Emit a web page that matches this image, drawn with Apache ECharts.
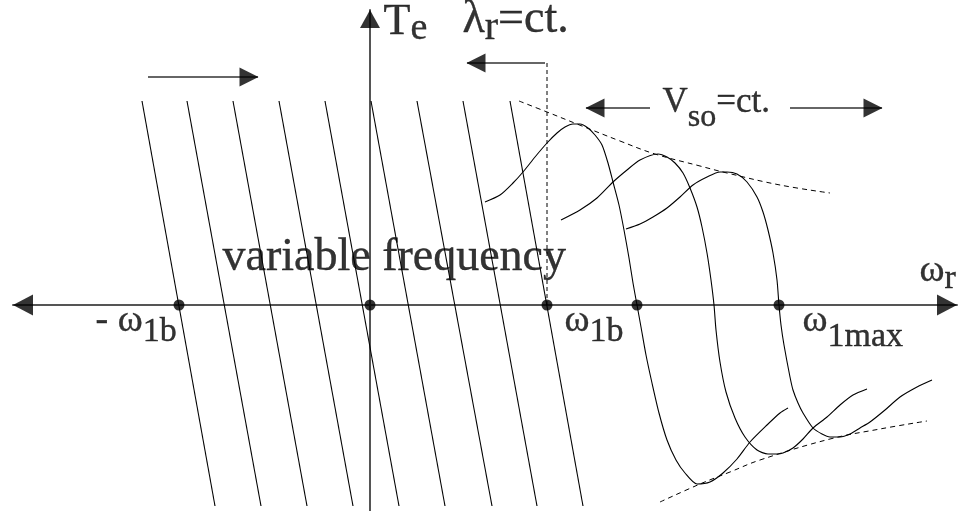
<!DOCTYPE html>
<html>
<head>
<meta charset="utf-8">
<script src="https://cdn.jsdelivr.net/npm/echarts@6/dist/echarts.min.js"></script>
<style>
  html, body { margin: 0; padding: 0; background: #fff; }
  #chart { width: 967px; height: 511px; }
</style>
</head>
<body>
<div id="chart"></div>
<script>
// Torque–speed characteristics of an induction machine under V/f control.
// Horizontal: rotor speed ω_r, vertical: electromagnetic torque T_e (diagram units).

// extent of the two axes
const speedMin = -357, speedMax = 587;
const torqueMin = -206, torqueMax = 295;

// synchronous speeds marked on the speed axis
const syncSpeeds = [-191, 0, 177, 267, 409];

// constant rotor flux region: parallel straight characteristics (speed at top / bottom end)
const straightTopT = 204;
const straightBottomT = -201;
const straightTopW = [-228, -183, -137, -91, -45, 1, 47, 93, 140];
const straightBottomW = [-155, -109, -63, -17, 29, 75, 122, 167, 213];

// constant stator voltage region: full characteristics [ω_r, T_e]
const curveBase = [
  [115, 103], [130, 110], [143, 122], [153, 133], [165, 148], [177, 162], [187, 172],
  [195, 178], [203, 181], [210, 181], [218, 177], [225, 170], [232, 160], [238, 142],
  [243, 123], [249, 100], [254, 75], [259, 47], [263, 22], [267, 0], [271, -22],
  [276, -50], [282, -78], [289, -108], [297, -135], [306, -155], [315, -168], [327, -179],
  [340, -177], [353, -168], [367, -154], [380, -137], [397, -120], [410, -108], [418, -103]
];
const curveMid = [
  [191, 85], [210, 95], [227, 107], [243, 123], [257, 135], [270, 145], [288, 151],
  [297, 148], [305, 142], [313, 132], [320, 117], [327, 98], [332, 78], [337, 52],
  [341, 25], [344, 0], [346, -25], [350, -57], [356, -87], [365, -113], [375, -132],
  [387, -145], [398, -149], [407, -149], [413, -148], [423, -143], [433, -134],
  [443, -123], [457, -112], [470, -100], [483, -90], [497, -84]
];
const curveMax = [
  [256, 76], [270, 81], [283, 88], [297, 97], [310, 108], [323, 120], [337, 128],
  [350, 133], [357, 133], [367, 131], [377, 123], [387, 108], [393, 93], [398, 75],
  [403, 52], [407, 25], [409, 0], [411, -20], [414, -40], [420, -72], [423, -85],
  [428, -98], [433, -108], [443, -123], [452, -129], [460, -132], [470, -132],
  [480, -129], [490, -123], [500, -117], [515, -105], [530, -92], [547, -82], [562, -75]
];

// breakdown torque envelopes
const peakEnvelope = [[149, 204], [177, 193], [207, 181], [250, 164], [285, 151], [330, 139], [357, 132], [410, 120], [460, 112]];
const troughEnvelope = [[290, -197], [330, -179], [360, -167], [390, -155], [460, -134], [510, -124], [557, -116]];

// limit of the constant-flux region
const fluxLimitW = 177;
const fluxLimitTopT = 242;

// direction arrows: torque level, shaft start, tip
const arrowLevels = [228, 242, 197, 197];
const arrowFrom = [-222, 175, 280, 420];
const arrowTo = [-112, 97, 216, 512];

// text annotations
const labelTexts = [
  '{t|T}{te|e}',
  '{l|λ}{lr|r}{l|=ct.}',
  '{v|V}{vs|so}{v|=ct.}',
  '{m|ω}{wr|r}',
  '{m|- ω}{s|1b}',
  '{m|ω}{s|1b}',
  '{m|ω}{x|1max}',
  '{big|variable frequency}'
];
const labelW = [14, 93, 293, 550, -274, 195, 433, -147];
const labelT = [304, 308, 219, 52, 2, 2, 2, 70];

const serif = "'Liberation Serif', 'Times New Roman', serif";
const ink = '#000';
function face(size, shift) {
  const st = {
    fontFamily: serif, fontSize: size, lineHeight: size, verticalAlign: 'top',
    color: ink, textBorderColor: ink, textBorderWidth: 0.4
  };
  if (shift) st.padding = [shift, 0, 0, 0];
  return st;
}
const rich = {
  t: face(44), te: face(38, 10),
  l: face(46), lr: face(40, 12),
  v: face(35), vs: face(32, 16),
  m: face(38), wr: face(34, 10), s: face(34, 13), x: face(34, 18),
  big: face(46)
};

const series = [];

straightTopW.forEach((w, i) => {
  series.push({
    type: 'line',
    data: [[w, straightTopT], [straightBottomW[i], straightBottomT]],
    showSymbol: false,
    lineStyle: { color: ink, width: 1.1 }
  });
});

[curveBase, curveMid, curveMax].forEach(c => {
  series.push({
    type: 'line', data: c, smooth: 0.25, showSymbol: false,
    lineStyle: { color: ink, width: 1.1 }
  });
});

[peakEnvelope, troughEnvelope].forEach(c => {
  series.push({
    type: 'line', data: c, smooth: 0.4, showSymbol: false,
    lineStyle: { color: ink, width: 1, type: [5, 4] }
  });
});

series.push({
  type: 'line',
  data: [[fluxLimitW, 0], [fluxLimitW, fluxLimitTopT]],
  showSymbol: false,
  lineStyle: { color: ink, width: 1, type: [4, 3] }
});

arrowLevels.forEach((t, i) => {
  series.push({
    type: 'line',
    data: [[arrowFrom[i], t], [arrowTo[i], t]],
    showSymbol: false,
    lineStyle: { color: '#333', width: 1.5 }
  });
});

// arrow heads of the annotation arrows and of both axes (tip sits on the data point)
const heads = arrowLevels.map((t, i) => {
  const right = arrowTo[i] > arrowFrom[i];
  return { value: [arrowTo[i], t], symbolSize: [19, 19], symbolRotate: right ? -90 : 90, symbolOffset: [right ? -9 : 9, 0] };
});
heads.push({ value: [speedMin, 0], symbolSize: [21, 20], symbolRotate: 90, symbolOffset: [10, 0] });
heads.push({ value: [speedMax, 0], symbolSize: [21, 20], symbolRotate: -90, symbolOffset: [-10, 0] });
heads.push({ value: [0, torqueMax], symbolSize: [20, 18], symbolRotate: 0, symbolOffset: [0, 9] });

series.push({
  type: 'scatter',
  symbol: 'triangle',
  itemStyle: { color: ink },
  clip: false,
  z: 4,
  data: heads
});

series.push({
  type: 'scatter',
  symbol: 'circle',
  symbolSize: 11,
  itemStyle: { color: ink },
  z: 5,
  data: syncSpeeds.map(w => [w, 0])
});

series.push({
  type: 'scatter',
  symbolSize: 1,
  itemStyle: { color: 'rgba(0,0,0,0)' },
  clip: false,
  label: { show: true, position: [0, 0], align: 'left', verticalAlign: 'top', rich: rich },
  data: labelTexts.map((txt, i) => ({
    value: [labelW[i], labelT[i]],
    label: { formatter: txt }
  }))
});

const axisStyle = { color: '#555', width: 2 };
const chart = echarts.init(document.getElementById('chart'));
chart.setOption({
  animation: false,
  backgroundColor: '#fff',
  tooltip: { show: false },
  grid: { left: 13, right: 10, top: 10, bottom: 0, containLabel: false },
  xAxis: {
    type: 'value', min: speedMin, max: speedMax,
    axisLine: { show: true, onZero: true, lineStyle: axisStyle },
    axisTick: { show: false }, axisLabel: { show: false }, splitLine: { show: false }
  },
  yAxis: {
    type: 'value', min: torqueMin, max: torqueMax,
    axisLine: { show: true, onZero: true, lineStyle: axisStyle },
    axisTick: { show: false }, axisLabel: { show: false }, splitLine: { show: false }
  },
  series: series
});
</script>
</body>
</html>
